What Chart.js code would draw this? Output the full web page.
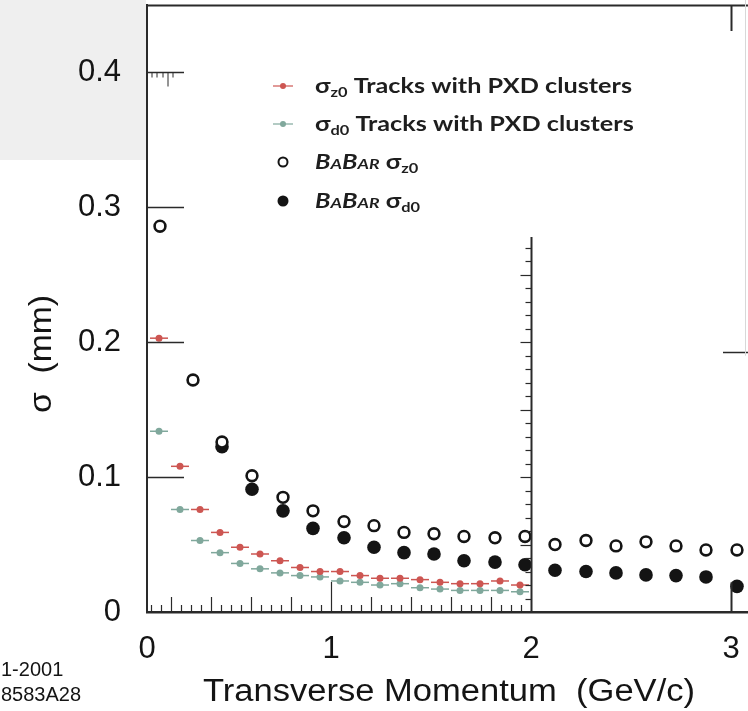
<!DOCTYPE html>
<html>
<head>
<meta charset="utf-8">
<script src="https://cdn.jsdelivr.net/npm/chart.js@4.4.0/dist/chart.umd.min.js"></script>
<style>
  html, body { margin: 0; padding: 0; background: #fff; }
  #wrap { width: 748px; height: 711px; }
</style>
</head>
<body>
<div id="wrap"><canvas id="sigmaChart" width="748" height="711"></canvas></div>
<script>
// Данные: разрешение по прицельному параметру (мм) от поперечного импульса (ГэВ/c)
const pxdX = [0.14, 0.245, 0.345, 0.445, 0.545, 0.645, 0.745, 0.845, 0.945, 1.045,
              1.145, 1.245, 1.345, 1.445, 1.545, 1.645, 1.745, 1.845, 1.945];
const pxdXErr = 0.05;
const sigmaZ0Pxd = [0.203, 0.108, 0.076, 0.059, 0.048, 0.043, 0.038, 0.033, 0.030, 0.030,
                    0.027, 0.025, 0.025, 0.024, 0.022, 0.021, 0.021, 0.023, 0.020];
const sigmaD0Pxd = [0.134, 0.076, 0.053, 0.044, 0.036, 0.032, 0.029, 0.027, 0.026, 0.023,
                    0.022, 0.020, 0.021, 0.018, 0.017, 0.016, 0.016, 0.016, 0.015];

const babarX = [0.145, 0.31, 0.455, 0.605, 0.76, 0.91, 1.065, 1.215, 1.365, 1.515,
                1.665, 1.82, 1.97, 2.12, 2.275, 2.425, 2.575, 2.725, 2.875, 3.03];
const babarZ0 = [0.286, 0.172, 0.126, 0.101, 0.085, 0.075, 0.067, 0.064, 0.059, 0.058,
                 0.056, 0.055, 0.056, 0.050, 0.053, 0.049, 0.052, 0.049, 0.046, 0.046];
const babarD0 = [null, null, 0.1225, 0.091, 0.075, 0.062, 0.055, 0.048, 0.044, 0.043,
                 0.038, 0.037, 0.035, 0.031, 0.030, 0.029, 0.0275, 0.027, 0.026, 0.019];

const xTicks = [0, 1, 2, 3];
const xTickLabels = ['0', '1', '2', '3'];
const yTicks = [0, 0.1, 0.2, 0.3, 0.4];
const yTickLabels = ['0', '0.1', '0.2', '0.3', '0.4'];

const xTitle = 'Transverse Momentum  (GeV/c)';
const yTitle = 'σ  (mm)';
const cornerNotes = ['1-2001', '8583A28'];

const RED = 'rgb(205, 86, 82)';
const GREEN = 'rgb(128, 168, 156)';
const INK = '#141414';
const SANS = "'Liberation Sans', Arial, sans-serif";

const toPoints = (xs, ys) => xs.map((x, i) => ({ x: x, y: ys[i] }));

// текст, растянутый под нужную ширину
function fitText(ctx, text, x, y, width, font) {
    ctx.font = font;
    const w = ctx.measureText(text).width;
    ctx.save();
    ctx.translate(x, y);
    ctx.scale(width / w, 1);
    ctx.textAlign = 'left';
    ctx.fillText(text, 0, 0);
    ctx.restore();
}

// фон и серый прямоугольник слева сверху
const backgroundPlugin = {
    id: 'bg',
    beforeDraw(chart) {
        const ctx = chart.ctx;
        ctx.save();
        ctx.fillStyle = '#fff';
        ctx.fillRect(0, 0, chart.width, chart.height);
        ctx.fillStyle = '#efefef';
        ctx.fillRect(0, 0, chart.chartArea.left - 1, 160);
        ctx.restore();
    }
};

// горизонтальные ошибки для точек PXD
const errorBarPlugin = {
    id: 'errorBars',
    beforeDatasetsDraw(chart) {
        const { ctx, scales: { x, y } } = chart;
        ctx.save();
        ctx.lineWidth = 1.5;
        [[sigmaD0Pxd, GREEN], [sigmaZ0Pxd, RED]].forEach(([vals, color]) => {
            ctx.strokeStyle = color;
            pxdX.forEach((v, i) => {
                const py = y.getPixelForValue(vals[i]);
                ctx.beginPath();
                ctx.moveTo(x.getPixelForValue(v - pxdXErr) + 1, py);
                ctx.lineTo(x.getPixelForValue(v + pxdXErr) - 1, py);
                ctx.stroke();
            });
        });
        ctx.restore();
    }
};

// рамка, внутренние засечки, склейка двух рисунков
const framePlugin = {
    id: 'frame',
    afterDatasetsDraw(chart) {
        const { ctx, chartArea: a, scales: { x, y } } = chart;
        const line = (x1, y1, x2, y2, w) => {
            ctx.lineWidth = w;
            ctx.beginPath();
            ctx.moveTo(x1, y1);
            ctx.lineTo(x2, y2);
            ctx.stroke();
        };
        ctx.save();
        ctx.strokeStyle = '#2a2a2a';
        line(a.left, a.top + 0.5, a.right, a.top + 0.5, 2);

        // длинные засечки оси y внутрь
        const tickEnd = x.getPixelForValue(0.265);
        yTicks.filter(v => v > 0).forEach(v => {
            const py = Math.round(y.getPixelForValue(v)) + 0.5;
            line(a.left, py, tickEnd, py, 1.5);
        });
        // гребёнка у 0.4
        const p4 = Math.round(y.getPixelForValue(0.4)) + 0.5;
        [0.105, 0.13, 0.16, 0.21].forEach(v => {
            const px = x.getPixelForValue(v);
            line(px, p4, px, p4 + 5, 1);
        });
        const pl = x.getPixelForValue(0.185);
        line(pl, p4, pl, p4 + 14, 1);

        // мелкие засечки оси x внутрь
        for (let k = 2; k <= 39; k++) {
            const px = Math.round(x.getPixelForValue(k * 0.05)) + 0.5;
            const len = k === 20 ? 30 : (k % 4 === 0 ? 15 : 7);
            line(px, a.bottom, px, a.bottom - len, 1.2);
        }

        // вертикальная линия у 2 с засечками
        const px2 = Math.round(x.getPixelForValue(2)) + 0.5;
        line(px2, a.bottom, px2, y.getPixelForValue(0.278), 2);
        for (let j = 1; j <= 27; j++) {
            const py = Math.round(y.getPixelForValue(j * 0.01)) + 0.5;
            const len = j % 5 === 0 ? 11 : 6;
            line(px2 - len, py, px2, py, 1.2);
        }

        // засечки у 3
        const px3 = Math.round(x.getPixelForValue(3)) + 0.5;
        line(px3, a.top, px3, a.top + 26, 2);
        line(px3, a.bottom, px3, y.getPixelForValue(0.022), 2);
        const pr = Math.round(y.getPixelForValue(0.193)) + 0.5;
        line(x.getPixelForValue(2.96), pr, a.right, pr, 1.5);

        ctx.strokeStyle = '#d8d8d8';
        line(745.5, 0, 745.5, y.getPixelForValue(0.19), 1);
        ctx.restore();
    },
    afterDraw(chart) {
        const ctx = chart.ctx;
        ctx.save();
        ctx.fillStyle = INK;
        ctx.textBaseline = 'alphabetic';
        // подписи осей
        fitText(ctx, xTitle, 203, 701, 492, '31px ' + SANS);
        ctx.save();
        ctx.translate(51, 354);
        ctx.rotate(-Math.PI / 2);
        ctx.font = '31px ' + SANS;
        const wy = ctx.measureText(yTitle).width;
        ctx.scale(118 / wy, 1);
        ctx.fillText(yTitle, -wy / 2, 0);
        ctx.restore();
        // служебные пометки
        ctx.font = '20px ' + SANS;
        ctx.fillText(cornerNotes[0], 1, 676);
        ctx.fillText(cornerNotes[1], 1, 701);
        ctx.restore();
        drawLegend(ctx);
    }
};

// легенда с индексами
function drawLegend(ctx) {
    const x0 = 315, mx = 283;
    const rows = [86, 124, 162, 201];
    const big = 'bold 20px Lato, sans-serif';
    const sub = 'bold 13px Lato, sans-serif';
    const itBig = 'italic bold 20px Lato, sans-serif';
    const itSmall = 'italic bold 14px Lato, sans-serif';
    const runs = [
        [['σ', big, 0], ['z0', sub, 4], [' Tracks with PXD clusters', big, 0]],
        [['σ', big, 0], ['d0', sub, 4], [' Tracks with PXD clusters', big, 0]],
        [['B', itBig, 0], ['A', itSmall, 0], ['B', itBig, 0], ['AR', itSmall, 0], [' σ', big, 0], ['z0', sub, 4]],
        [['B', itBig, 0], ['A', itSmall, 0], ['B', itBig, 0], ['AR', itSmall, 0], [' σ', big, 0], ['d0', sub, 4]]
    ];
    const widthOf = segs => segs.reduce((s, [t, f]) => { ctx.font = f; return s + ctx.measureText(t).width; }, 0);
    const k = 317 / widthOf(runs[0]);

    ctx.save();
    ctx.fillStyle = '#1e1e1e';
    ctx.textBaseline = 'alphabetic';
    runs.forEach((segs, r) => {
        ctx.save();
        ctx.translate(x0, rows[r] + 7);
        ctx.scale(k, 1);
        let cx = 0;
        segs.forEach(([t, f, dy]) => {
            ctx.font = f;
            ctx.fillText(t, cx, dy);
            cx += ctx.measureText(t).width;
        });
        ctx.restore();
    });

    // значки
    [[rows[0], RED], [rows[1], GREEN]].forEach(([py, c]) => {
        ctx.strokeStyle = c;
        ctx.fillStyle = c;
        ctx.lineWidth = 1.2;
        ctx.beginPath();
        ctx.moveTo(mx - 10, py);
        ctx.lineTo(mx + 10, py);
        ctx.stroke();
        ctx.beginPath();
        ctx.arc(mx, py, 3, 0, Math.PI * 2);
        ctx.fill();
    });
    ctx.strokeStyle = INK;
    ctx.lineWidth = 2;
    ctx.beginPath();
    ctx.arc(mx, rows[2], 4.5, 0, Math.PI * 2);
    ctx.stroke();
    ctx.fillStyle = INK;
    ctx.beginPath();
    ctx.arc(mx, rows[3], 5.5, 0, Math.PI * 2);
    ctx.fill();
    ctx.restore();
}

const tickFont = { family: SANS, size: 31 };

const ctx = document.getElementById('sigmaChart').getContext('2d');
const sigmaChart = new Chart(ctx, {
    type: 'scatter',
    data: {
        datasets: [
            {
                label: 'σz0 Tracks with PXD clusters',
                data: toPoints(pxdX, sigmaZ0Pxd),
                backgroundColor: RED,
                borderWidth: 0,
                pointRadius: 3.5
            },
            {
                label: 'σd0 Tracks with PXD clusters',
                data: toPoints(pxdX, sigmaD0Pxd),
                backgroundColor: GREEN,
                borderWidth: 0,
                pointRadius: 3.5
            },
            {
                label: 'BaBar σz0',
                data: toPoints(babarX, babarZ0),
                backgroundColor: '#fff',
                borderColor: INK,
                borderWidth: 2.6,
                pointRadius: 5.4
            },
            {
                label: 'BaBar σd0',
                data: toPoints(babarX, babarD0),
                backgroundColor: INK,
                borderColor: INK,
                borderWidth: 0,
                pointRadius: 6.8
            }
        ]
    },
    options: {
        responsive: false,
        devicePixelRatio: 1,
        animation: false,
        layout: { autoPadding: false, padding: { top: 5, left: 0, right: 0, bottom: 0 } },
        plugins: {
            legend: { display: false },
            tooltip: { enabled: false }
        },
        scales: {
            x: {
                type: 'linear',
                min: 0.08,
                max: 3.085,
                afterFit: s => { s.height = 99; s.paddingLeft = 0; s.paddingRight = 0; },
                afterBuildTicks: s => { s.ticks = xTicks.map(v => ({ value: Math.max(v, s.min) })); },
                grid: { drawOnChartArea: false, drawTicks: false },
                border: { display: true, color: '#2a2a2a', width: 2.5 },
                ticks: {
                    padding: 19,
                    font: tickFont,
                    color: INK,
                    maxRotation: 0,
                    autoSkip: false,
                    callback: (v, i) => xTickLabels[i]
                }
            },
            y: {
                min: 0,
                max: 0.45,
                afterFit: s => { s.width = 147; s.paddingTop = 0; s.paddingBottom = 0; },
                afterBuildTicks: s => { s.ticks = yTicks.map(v => ({ value: v })); },
                grid: { drawOnChartArea: false, drawTicks: false },
                border: { display: true, color: '#2a2a2a', width: 2 },
                ticks: {
                    padding: 26,
                    font: tickFont,
                    color: INK,
                    autoSkip: false,
                    callback: (v, i) => yTickLabels[i]
                }
            }
        }
    },
    plugins: [backgroundPlugin, errorBarPlugin, framePlugin]
});
</script>
</body>
</html>
